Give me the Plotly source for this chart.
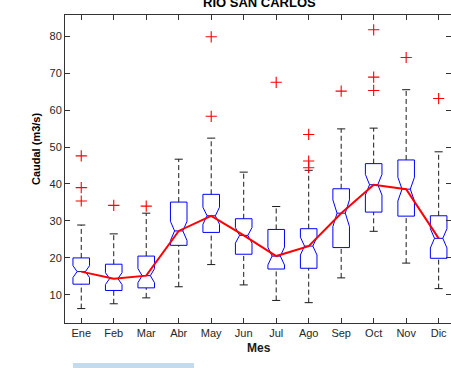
import plotly.graph_objects as go

months = ["Ene", "Feb", "Mar", "Abr", "May", "Jun", "Jul", "Ago", "Sep", "Oct", "Nov", "Dic"]
q1 = [12.9, 11.2, 11.9, 23.4, 26.9, 21.0, 17.0, 17.2, 22.8, 32.4, 31.3, 19.9]
median = [16.3, 14.4, 15.2, 27.3, 31.4, 26.1, 20.5, 23.2, 32.1, 39.8, 38.6, 25.3]
q3 = [20.0, 18.3, 20.5, 35.1, 37.2, 30.6, 27.7, 27.9, 38.7, 45.5, 46.5, 31.4]
lower_whisker = [6.3, 7.6, 9.2, 12.2, 18.2, 12.7, 8.5, 7.9, 14.6, 27.2, 18.6, 11.7]
upper_whisker = [28.9, 26.5, 32.1, 46.7, 52.4, 43.2, 33.9, 43.7, 54.9, 55.1, 65.5, 48.7]
notch_span = [1.6, 1.6, 1.9, 2.6, 2.3, 2.1, 2.4, 2.4, 3.6, 2.8, 3.2, 2.6]
outlier_month = [1, 1, 1, 2, 3, 5, 5, 7, 8, 8, 8, 9, 10, 10, 10, 11, 12]
outlier_value = [47.6, 39.0, 35.4, 34.2, 34.0, 79.8, 58.3, 67.5, 53.4, 46.2, 44.4,
                 65.1, 81.7, 68.9, 65.3, 74.2, 63.1]

xpos = list(range(1, len(months) + 1))

fig = go.Figure()

# dashed whiskers
wx, wy = [], []
for i, x in enumerate(xpos):
    wx += [x, x, None, x, x, None]
    wy += [q3[i], upper_whisker[i], None, lower_whisker[i], q1[i], None]
fig.add_trace(go.Scatter(x=wx, y=wy, mode="lines",
                         line=dict(color="#1a1a1a", width=1, dash="5px,3px"),
                         hoverinfo="skip", showlegend=False))
# caps
cap = 0.125
cx, cy = [], []
for i, x in enumerate(xpos):
    cx += [x - cap, x + cap, None, x - cap, x + cap, None]
    cy += [upper_whisker[i], upper_whisker[i], None, lower_whisker[i], lower_whisker[i], None]
fig.add_trace(go.Scatter(x=cx, y=cy, mode="lines",
                         line=dict(color="#1a1a1a", width=1),
                         hoverinfo="skip", showlegend=False))

# notched boxes
fig.add_trace(go.Box(x=xpos, q1=q1, median=median, q3=q3,
                     lowerfence=q1, upperfence=q3,
                     notched=True, notchspan=notch_span, notchwidth=0.25,
                     width=0.51, whiskerwidth=0,
                     line=dict(color="#0000ff", width=1),
                     fillcolor="rgba(0,0,0,0)", boxpoints=False,
                     showlegend=False))

# median line
fig.add_trace(go.Scatter(x=xpos, y=median, mode="lines",
                         line=dict(color="#ff0000", width=2),
                         showlegend=False))

# outliers
fig.add_trace(go.Scatter(x=outlier_month, y=outlier_value, mode="markers",
                         marker=dict(symbol="cross-thin", size=8,
                                     line=dict(color="#ff0000", width=1.1)),
                         showlegend=False))

W, H = 451, 368
L, R, T, B = 65, 451, 15, 323

def px(p):
    return (p - L) / (R - L)

def py(p):
    return (B - p) / (B - T)

font_tick = dict(family="Liberation Sans, Arial, sans-serif", size=11, color="#262626")

fig.update_layout(
    width=W, height=H,
    margin=dict(l=L, r=W - R, t=T, b=H - B),
    paper_bgcolor="white", plot_bgcolor="white",
    xaxis=dict(range=[0.5, 12.38], tickmode="array", tickvals=xpos, ticktext=months,
               ticks="inside", ticklen=5, tickcolor="#333", showline=True,
               linecolor="#333", linewidth=1, mirror="ticks", showgrid=False,
               zeroline=False, tickfont=font_tick),
    yaxis=dict(range=[2.4, 85.7], tickvals=[10, 20, 30, 40, 50, 60, 70, 80],
               ticks="inside", ticklen=5, tickcolor="#333", showline=True,
               linecolor="#333", linewidth=1, mirror="ticks", showgrid=False,
               zeroline=False, tickfont=font_tick),
    font=dict(family="Liberation Sans, Arial, sans-serif"),
    annotations=[
        dict(text="<b>RIO SAN CARLOS</b>", xref="paper", yref="paper",
             x=px(259), y=py(2), xanchor="center", yanchor="middle",
             showarrow=False, font=dict(size=13, color="black")),
        dict(text="<b>Caudal (m3/s)</b>", xref="paper", yref="paper",
             x=px(36), y=py(149), xanchor="center", yanchor="middle",
             textangle=-90, showarrow=False, font=dict(size=11, color="black")),
        dict(text="<b>Mes</b>", xref="paper", yref="paper",
             x=px(259), y=py(348), xanchor="center", yanchor="middle",
             showarrow=False, font=dict(size=12, color="#1a1a1a")),
    ],
    shapes=[
        dict(type="rect", xref="paper", yref="paper",
             x0=px(73), x1=px(194), y0=py(368), y1=py(363),
             fillcolor="#c4dbee", line=dict(width=0), layer="above"),
    ],
)

fig.write_html("out.html")
